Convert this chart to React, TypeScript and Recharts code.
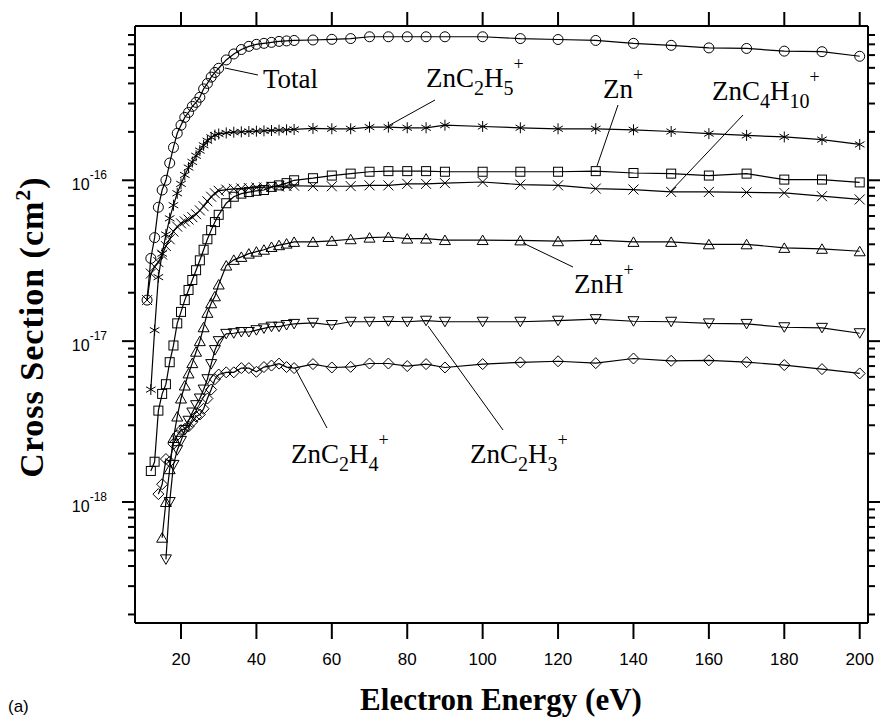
import { LineChart, Line, XAxis, YAxis } from 'recharts';

// electron energy (eV), shared by every ion series
const energies = [
  11, 12, 13, 14, 15, 16, 17, 18, 19, 20, 21, 22, 23, 24, 25, 26, 27, 28, 29, 30,
  32, 34, 36, 38, 40, 42, 44, 46, 48, 50,
  55, 60, 65, 70, 75, 80, 85, 90,
  100, 110, 120, 130, 140, 150, 160, 170, 180, 190, 200,
];

// cross sections (cm^2), null where the ion was not measured
const totalCs = [
  1.8e-17, 3.27e-17, 4.4e-17, 6.8e-17, 8.7e-17, 1.0e-16, 1.28e-16, 1.6e-16, 1.96e-16, 2.2e-16,
  2.46e-16, 2.64e-16, 2.88e-16, 3.05e-16, 3.28e-16, 3.7e-16, 4.0e-16, 4.38e-16, 4.68e-16, 4.97e-16,
  5.6e-16, 6.1e-16, 6.5e-16, 6.8e-16, 7.0e-16, 7.1e-16, 7.2e-16, 7.3e-16, 7.35e-16, 7.4e-16,
  7.45e-16, 7.52e-16, 7.6e-16, 7.8e-16, 7.8e-16, 7.8e-16, 7.8e-16, 7.8e-16,
  7.8e-16, 7.6e-16, 7.5e-16, 7.4e-16, 7.1e-16, 6.9e-16, 6.65e-16, 6.6e-16, 6.35e-16, 6.3e-16, 5.9e-16,
];
const znC2H5 = [
  null, 5.0e-18, 1.17e-17, 2.5e-17, 3.5e-17, 4.6e-17, 5.8e-17, 7.0e-17, 8.3e-17, 9.5e-17,
  1.08e-16, 1.2e-16, 1.3e-16, 1.42e-16, 1.53e-16, 1.65e-16, 1.76e-16, 1.85e-16, 1.91e-16, 1.94e-16,
  1.97e-16, 1.99e-16, 2.0e-16, 2.01e-16, 2.02e-16, 2.03e-16, 2.04e-16, 2.05e-16, 2.06e-16, 2.07e-16,
  2.1e-16, 2.09e-16, 2.09e-16, 2.14e-16, 2.14e-16, 2.12e-16, 2.12e-16, 2.2e-16,
  2.16e-16, 2.12e-16, 2.09e-16, 2.09e-16, 2.06e-16, 2.01e-16, 1.95e-16, 1.9e-16, 1.86e-16, 1.79e-16, 1.67e-16,
];
const zn = [
  null, 1.56e-18, 1.78e-18, 3.7e-18, 4.7e-18, 5.4e-18, 7.4e-18, 9.4e-18, 1.29e-17, 1.52e-17,
  1.8e-17, 2.08e-17, 2.4e-17, 2.76e-17, 3.18e-17, 3.7e-17, 4.3e-17, 4.9e-17, 5.5e-17, 6.1e-17,
  7.2e-17, 7.9e-17, 8.26e-17, 8.45e-17, 8.6e-17, 8.7e-17, 9.1e-17, 9.3e-17, 9.6e-17, 1.0e-16,
  1.03e-16, 1.07e-16, 1.1e-16, 1.13e-16, 1.14e-16, 1.14e-16, 1.14e-16, 1.13e-16,
  1.13e-16, 1.13e-16, 1.13e-16, 1.14e-16, 1.11e-16, 1.1e-16, 1.07e-16, 1.1e-16, 1.01e-16, 1.01e-16, 9.7e-17,
];
const znC4H10 = [
  1.8e-17, 2.63e-17, 2.9e-17, 3.1e-17, 3.45e-17, 3.9e-17, 4.3e-17, 4.8e-17, 5.15e-17, 5.4e-17,
  5.55e-17, 5.7e-17, 5.9e-17, 6.15e-17, 6.5e-17, 6.9e-17, 7.4e-17, 7.9e-17, 8.3e-17, 8.6e-17,
  8.75e-17, 8.85e-17, 8.9e-17, 8.95e-17, 9.0e-17, 9.05e-17, 9.1e-17, 9.15e-17, 9.2e-17, 9.25e-17,
  9.2e-17, 9.18e-17, 9.2e-17, 9.3e-17, 9.3e-17, 9.5e-17, 9.5e-17, 9.6e-17,
  9.76e-17, 9.4e-17, 9.3e-17, 8.88e-17, 8.76e-17, 8.46e-17, 8.46e-17, 8.4e-17, 8.35e-17, 7.96e-17, 7.6e-17,
];
const znH = [
  null, null, null, null, 6.0e-19, 1.0e-18, 1.6e-18, 2.5e-18, 3.4e-18, 4.4e-18,
  5.3e-18, 6.3e-18, 7.3e-18, 8.6e-18, 1.0e-17, 1.22e-17, 1.5e-17, 1.72e-17, 1.9e-17, 2.25e-17,
  2.95e-17, 3.2e-17, 3.34e-17, 3.5e-17, 3.6e-17, 3.7e-17, 3.85e-17, 3.95e-17, 4.04e-17, 4.14e-17,
  4.14e-17, 4.2e-17, 4.3e-17, 4.4e-17, 4.44e-17, 4.34e-17, 4.34e-17, 4.25e-17,
  4.25e-17, 4.23e-17, 4.18e-17, 4.25e-17, 4.14e-17, 4.14e-17, 4.0e-17, 4.0e-17, 3.8e-17, 3.75e-17, 3.62e-17,
];
const znC2H3 = [
  null, null, null, null, null, 4.4e-19, 1.0e-18, 1.7e-18, 2.1e-18, 2.4e-18,
  2.8e-18, 3.2e-18, 3.6e-18, 4.0e-18, 4.4e-18, 5.0e-18, 5.8e-18, 7.2e-18, 8.8e-18, 1.0e-17,
  1.11e-17, 1.12e-17, 1.14e-17, 1.14e-17, 1.17e-17, 1.2e-17, 1.23e-17, 1.23e-17, 1.26e-17, 1.28e-17,
  1.3e-17, 1.26e-17, 1.32e-17, 1.32e-17, 1.33e-17, 1.32e-17, 1.34e-17, 1.32e-17,
  1.32e-17, 1.32e-17, 1.34e-17, 1.37e-17, 1.33e-17, 1.32e-17, 1.29e-17, 1.28e-17, 1.22e-17, 1.21e-17, 1.12e-17,
];
const znC2H4 = [
  null, null, null, 1.12e-18, 1.29e-18, 1.85e-18, 1.78e-18, 2.3e-18, 2.6e-18, 2.8e-18,
  2.85e-18, 2.95e-18, 3.15e-18, 3.4e-18, 3.5e-18, 3.8e-18, 4.4e-18, 5.0e-18, 5.8e-18, 6.2e-18,
  6.4e-18, 6.4e-18, 6.8e-18, 6.8e-18, 6.45e-18, 6.9e-18, 7.05e-18, 7.25e-18, 6.9e-18, 6.8e-18,
  7.2e-18, 6.86e-18, 6.92e-18, 7.26e-18, 7.26e-18, 7.0e-18, 7.2e-18, 6.86e-18,
  7.2e-18, 7.38e-18, 7.5e-18, 7.3e-18, 7.8e-18, 7.55e-18, 7.6e-18, 7.4e-18, 7.1e-18, 6.7e-18, 6.3e-18,
];

const xTicks = [20, 40, 60, 80, 100, 120, 140, 160, 180, 200];
const yTicks = [
  2e-19, 3e-19, 4e-19, 5e-19, 6e-19, 7e-19, 8e-19, 9e-19,
  1e-18, 2e-18, 3e-18, 4e-18, 5e-18, 6e-18, 7e-18, 8e-18, 9e-18,
  1e-17, 2e-17, 3e-17, 4e-17, 5e-17, 6e-17, 7e-17, 8e-17, 9e-17,
  1e-16, 2e-16, 3e-16, 4e-16, 5e-16, 6e-16, 7e-16, 8e-16,
];

const data = energies.map((e, i) => ({
  e,
  total: totalCs[i],
  c2h5: znC2H5[i],
  zn: zn[i],
  c4h10: znC4H10[i],
  znh: znH[i],
  c2h3: znC2H3[i],
  c2h4: znC2H4[i],
}));

const SANS = '"Liberation Sans", Arial, sans-serif';
const SERIF = '"Liberation Serif", "Times New Roman", serif';
const K = '#000';

// ---- markers ----
type Pt = { cx?: number; cy?: number; index?: number };
const ok = (p: Pt) => p.cx != null && p.cy != null && !isNaN(p.cx) && !isNaN(p.cy);

const circleDot = (p: Pt) =>
  ok(p) ? <circle key={`c${p.index}`} cx={p.cx} cy={p.cy} r={5} fill="none" stroke={K} strokeWidth={1} /> : null;

const squareDot = (p: Pt) =>
  ok(p) ? <rect key={`s${p.index}`} x={p.cx! - 4.5} y={p.cy! - 4.5} width={9} height={9} fill="none" stroke={K} strokeWidth={1} /> : null;

const crossDot = (p: Pt) =>
  ok(p) ? (
    <path key={`x${p.index}`} d={`M${p.cx! - 5},${p.cy! - 5}L${p.cx! + 5},${p.cy! + 5}M${p.cx! - 5},${p.cy! + 5}L${p.cx! + 5},${p.cy! - 5}`} stroke={K} strokeWidth={1} />
  ) : null;

const starDot = (p: Pt) => {
  if (!ok(p)) return null;
  const { cx, cy } = p as { cx: number; cy: number };
  const a = 4.8, b = 2.8, r = 5.5;
  return (
    <path key={`a${p.index}`} d={`M${cx},${cy - r}L${cx},${cy + r}M${cx - a},${cy - b}L${cx + a},${cy + b}M${cx - a},${cy + b}L${cx + a},${cy - b}`} stroke={K} strokeWidth={1} />
  );
};

const triUpDot = (p: Pt) =>
  ok(p) ? (
    <path key={`u${p.index}`} d={`M${p.cx},${p.cy! - 5}L${p.cx! + 5.5},${p.cy! + 4.5}L${p.cx! - 5.5},${p.cy! + 4.5}Z`} fill="none" stroke={K} strokeWidth={1} />
  ) : null;

const triDownDot = (p: Pt) =>
  ok(p) ? (
    <path key={`d${p.index}`} d={`M${p.cx},${p.cy! + 5}L${p.cx! + 5.5},${p.cy! - 4.5}L${p.cx! - 5.5},${p.cy! - 4.5}Z`} fill="none" stroke={K} strokeWidth={1} />
  ) : null;

const diamondDot = (p: Pt) =>
  ok(p) ? (
    <path key={`m${p.index}`} d={`M${p.cx},${p.cy! - 5.5}L${p.cx! + 5.5},${p.cy}L${p.cx},${p.cy! + 5.5}L${p.cx! - 5.5},${p.cy}Z`} fill="none" stroke={K} strokeWidth={1} />
  ) : null;

// ---- axis ticks ----
const XTick = (props: any) => {
  const { x, y, payload, side } = props;
  if (side === 'top') return <line x1={x} x2={x} y1={y} y2={y - 14} stroke={K} strokeWidth={2} />;
  return (
    <g>
      <line x1={x} x2={x} y1={y} y2={y + 16} stroke={K} strokeWidth={2} />
      <text x={x} y={y + 42} textAnchor="middle" fontFamily={SANS} fontSize={17} fill={K}>
        {payload.value}
      </text>
    </g>
  );
};

const YTick = (props: any) => {
  const { x, y, payload, side } = props;
  const v = payload.value;
  const exp = Math.round(Math.log10(v));
  const major = Math.abs(v - Math.pow(10, exp)) < v * 1e-6;
  const dir = side === 'left' ? -1 : 1;
  const len = major ? 13 : 7;
  return (
    <g>
      <line x1={x} x2={x + dir * len} y1={y} y2={y} stroke={K} strokeWidth={2} />
      {major && side === 'left' && (
        <text x={x - 28} y={y + 10} textAnchor="end" fontFamily={SANS} fontSize={16} fill={K}>
          10
          <tspan dy={-11} fontSize={12}>{exp}</tspan>
        </text>
      )}
    </g>
  );
};

// ---- ion labels ----
type Part = [string, 'n' | 'sub' | 'sup'];
function Formula({ x, y, parts }: { x: number; y: number; parts: Part[] }) {
  let off = 0;
  return (
    <text x={x} y={y} fontFamily={SERIF} fontSize={27} fill={K}>
      {parts.map(([t, k], i) => {
        const target = k === 'sub' ? 8 : k === 'sup' ? -17 : 0;
        const dy = target - off;
        off = target;
        return (
          <tspan key={i} dy={dy} fontSize={k === 'n' ? 27 : k === 'sub' ? 20 : 18}>
            {t}
          </tspan>
        );
      })}
    </text>
  );
}

const Leader = ({ x1, y1, x2, y2 }: { x1: number; y1: number; x2: number; y2: number }) => (
  <line x1={x1} y1={y1} x2={x2} y2={y2} stroke={K} strokeWidth={1} />
);

export default function App() {
  const axisLine = { stroke: K, strokeWidth: 2 };
  return (
    <div style={{ position: 'absolute', left: 0, top: 0, width: 880, height: 719, background: '#fff' }}>
      <LineChart width={880} height={719} data={data} margin={{ top: 6, right: 2, left: 95, bottom: 56 }}>
        <XAxis
          xAxisId="b"
          dataKey="e"
          type="number"
          domain={[7.8, 202.2]}
          allowDataOverflow
          ticks={xTicks}
          interval={0}
          height={40}
          axisLine={axisLine}
          tickLine={false}
          tickSize={0}
          tickMargin={0}
          tick={<XTick side="bottom" />}
        />
        <XAxis
          xAxisId="t"
          orientation="top"
          dataKey="e"
          type="number"
          domain={[7.8, 202.2]}
          allowDataOverflow
          ticks={xTicks}
          interval={0}
          height={20}
          axisLine={axisLine}
          tickLine={false}
          tickSize={0}
          tickMargin={0}
          tick={<XTick side="top" />}
        />
        <YAxis
          yAxisId="l"
          type="number"
          scale="log"
          domain={[1.77e-19, 9.1e-16]}
          allowDataOverflow
          ticks={yTicks}
          interval={0}
          width={40}
          axisLine={axisLine}
          tickLine={false}
          tickSize={0}
          tickMargin={0}
          tick={<YTick side="left" />}
        />
        <YAxis
          yAxisId="r"
          orientation="right"
          type="number"
          scale="log"
          domain={[1.77e-19, 9.1e-16]}
          allowDataOverflow
          ticks={yTicks}
          interval={0}
          width={10}
          axisLine={axisLine}
          tickLine={false}
          tickSize={0}
          tickMargin={0}
          tick={<YTick side="right" />}
        />
        <Line xAxisId="b" yAxisId="l" dataKey="total" type="linear" stroke={K} strokeWidth={1.2} dot={circleDot} isAnimationActive={false} />
        <Line xAxisId="b" yAxisId="l" dataKey="c2h5" type="linear" stroke={K} strokeWidth={1.2} dot={starDot} isAnimationActive={false} />
        <Line xAxisId="b" yAxisId="l" dataKey="zn" type="linear" stroke={K} strokeWidth={1.2} dot={squareDot} isAnimationActive={false} />
        <Line xAxisId="b" yAxisId="l" dataKey="c4h10" type="linear" stroke={K} strokeWidth={1.2} dot={crossDot} isAnimationActive={false} />
        <Line xAxisId="b" yAxisId="l" dataKey="znh" type="linear" stroke={K} strokeWidth={1.2} dot={triUpDot} isAnimationActive={false} />
        <Line xAxisId="b" yAxisId="l" dataKey="c2h3" type="linear" stroke={K} strokeWidth={1.2} dot={triDownDot} isAnimationActive={false} />
        <Line xAxisId="b" yAxisId="l" dataKey="c2h4" type="linear" stroke={K} strokeWidth={1.2} dot={diamondDot} isAnimationActive={false} />
      </LineChart>

      <svg width={880} height={719} style={{ position: 'absolute', left: 0, top: 0, pointerEvents: 'none' }}>
        <Leader x1={258} y1={75} x2={225} y2={68} />
        <Formula x={263} y={88} parts={[['Total', 'n']]} />

        <Leader x1={435} y1={100} x2={388} y2={126} />
        <Formula x={426} y={87} parts={[['ZnC', 'n'], ['2', 'sub'], ['H', 'n'], ['5', 'sub'], ['+', 'sup']]} />

        <Leader x1={618} y1={105} x2={597} y2={166} />
        <Formula x={603} y={98} parts={[['Zn', 'n'], ['+', 'sup']]} />

        <Leader x1={743} y1={115} x2={670} y2={192} />
        <Formula x={712} y={100} parts={[['ZnC', 'n'], ['4', 'sub'], ['H', 'n'], ['10', 'sub'], ['+', 'sup']]} />

        <Leader x1={573} y1={267} x2={523} y2={243} />
        <Formula x={574} y={293} parts={[['ZnH', 'n'], ['+', 'sup']]} />

        <Leader x1={503} y1={430} x2={428} y2={326} />
        <Formula x={470} y={463} parts={[['ZnC', 'n'], ['2', 'sub'], ['H', 'n'], ['3', 'sub'], ['+', 'sup']]} />

        <Leader x1={327} y1={428} x2={295} y2={368} />
        <Formula x={291} y={463} parts={[['ZnC', 'n'], ['2', 'sub'], ['H', 'n'], ['4', 'sub'], ['+', 'sup']]} />

        <text x={501} y={710} textAnchor="middle" fontFamily={SERIF} fontWeight="bold" fontSize={31} fill={K}>
          Electron Energy (eV)
        </text>
        <text
          x={43}
          y={327}
          transform="rotate(-90 43 327)"
          textAnchor="middle"
          fontFamily={SERIF}
          fontWeight="bold"
          fontSize={34}
          letterSpacing={1}
          fill={K}
        >
          Cross Section (cm
          <tspan dy={-13} fontSize={22}>2</tspan>
          <tspan dy={13}>)</tspan>
        </text>
        <text x={8} y={712} fontFamily={SANS} fontSize={17} fill={K}>
          (a)
        </text>
      </svg>
    </div>
  );
}
